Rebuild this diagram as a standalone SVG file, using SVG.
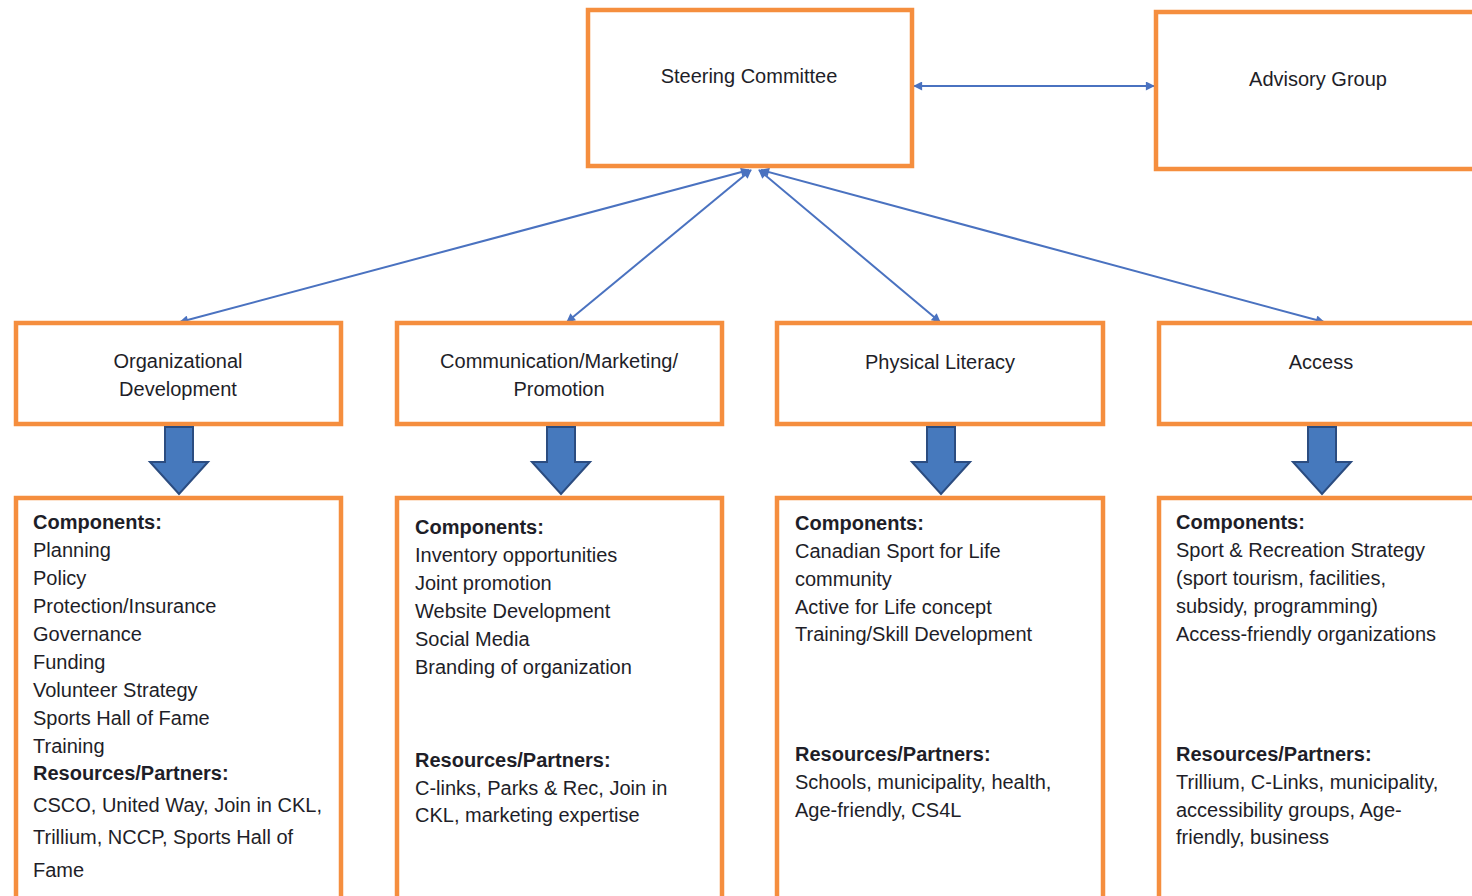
<svg xmlns="http://www.w3.org/2000/svg" width="1472" height="896" viewBox="0 0 1472 896">
<defs>
<style>
.box{fill:#fff;stroke:#F58E3E;stroke-width:4.5}
.t{font-family:"Liberation Sans",Arial,sans-serif;font-size:20px;fill:#1e1e28}
.c{text-anchor:middle}
.b{font-weight:bold}
.con{stroke:#4A72C0;stroke-width:2;fill:none;marker-start:url(#ah);marker-end:url(#ah)}
.blk{fill:#4679BD;stroke:#2B4C80;stroke-width:2}
</style>
<marker id="ah" viewBox="0 0 10 10" refX="9" refY="5" markerWidth="10" markerHeight="9" orient="auto-start-reverse" markerUnits="userSpaceOnUse">
<path d="M0,0 L10,5 L0,10 z" fill="#4A72C0"/>
</marker>
</defs>
<rect width="1472" height="896" fill="#fff"/>

<g id="connectors">
<line class="con" x1="914" y1="86" x2="1154" y2="86"/>
<line class="con" x1="749" y1="170" x2="180" y2="322"/>
<line class="con" x1="751" y1="170" x2="567" y2="322"/>
<line class="con" x1="759" y1="170" x2="940" y2="322"/>
<line class="con" x1="761" y1="170" x2="1324" y2="322"/>
</g>

<g id="steering">
<rect class="box" x="588" y="10" width="324" height="156"/>
<text class="t c" x="749" y="83">Steering Committee</text>
</g>
<g id="advisory">
<rect class="box" x="1156" y="12" width="330" height="157"/>
<text class="t c" x="1318" y="86">Advisory Group</text>
</g>

<g id="org-dev">
<rect class="box" x="16" y="323" width="325" height="101"/>
<text class="t c" x="178" y="368">Organizational</text>
<text class="t c" x="178" y="396">Development</text>
</g>
<g id="communication">
<rect class="box" x="397" y="323" width="325" height="101"/>
<text class="t c" x="559" y="368">Communication/Marketing/</text>
<text class="t c" x="559" y="396">Promotion</text>
</g>
<g id="physical-literacy">
<rect class="box" x="777" y="323" width="326" height="101"/>
<text class="t c" x="940" y="369">Physical Literacy</text>
</g>
<g id="access">
<rect class="box" x="1159" y="323" width="330" height="101"/>
<text class="t c" x="1321" y="369">Access</text>
</g>

<g id="block-arrows">
<path class="blk" d="M165,427 h28 v35 h15 l-29,32 l-29,-32 h15 z"/>
<path class="blk" d="M547,427 h28 v35 h15 l-29,32 l-29,-32 h15 z"/>
<path class="blk" d="M927,427 h28 v35 h15 l-29,32 l-29,-32 h15 z"/>
<path class="blk" d="M1308,427 h28 v35 h15 l-29,32 l-29,-32 h15 z"/>
</g>

<g id="org-dev-details">
<rect class="box" x="16" y="498" width="325" height="410"/>
<text class="t b" x="33" y="529">Components:</text>
<text class="t" x="33" y="557">Planning</text>
<text class="t" x="33" y="585">Policy</text>
<text class="t" x="33" y="613">Protection/Insurance</text>
<text class="t" x="33" y="641">Governance</text>
<text class="t" x="33" y="669">Funding</text>
<text class="t" x="33" y="697">Volunteer Strategy</text>
<text class="t" x="33" y="725">Sports Hall of Fame</text>
<text class="t" x="33" y="753">Training</text>
<text class="t b" x="33" y="780">Resources/Partners:</text>
<text class="t" x="33" y="812">CSCO, United Way, Join in CKL,</text>
<text class="t" x="33" y="844">Trillium, NCCP, Sports Hall of</text>
<text class="t" x="33" y="877">Fame</text>
</g>

<g id="communication-details">
<rect class="box" x="397" y="498" width="325" height="410"/>
<text class="t b" x="415" y="534">Components:</text>
<text class="t" x="415" y="562">Inventory opportunities</text>
<text class="t" x="415" y="590">Joint promotion</text>
<text class="t" x="415" y="618">Website Development</text>
<text class="t" x="415" y="646">Social Media</text>
<text class="t" x="415" y="674">Branding of organization</text>
<text class="t b" x="415" y="767">Resources/Partners:</text>
<text class="t" x="415" y="795">C-links, Parks &amp; Rec, Join in</text>
<text class="t" x="415" y="822">CKL, marketing expertise</text>
</g>

<g id="physical-literacy-details">
<rect class="box" x="777" y="498" width="326" height="410"/>
<text class="t b" x="795" y="530">Components:</text>
<text class="t" x="795" y="558">Canadian Sport for Life</text>
<text class="t" x="795" y="586">community</text>
<text class="t" x="795" y="614">Active for Life concept</text>
<text class="t" x="795" y="641">Training/Skill Development</text>
<text class="t b" x="795" y="761">Resources/Partners:</text>
<text class="t" x="795" y="789">Schools, municipality, health,</text>
<text class="t" x="795" y="817">Age-friendly, CS4L</text>
</g>

<g id="access-details">
<rect class="box" x="1159" y="498" width="330" height="410"/>
<text class="t b" x="1176" y="529">Components:</text>
<text class="t" x="1176" y="557">Sport &amp; Recreation Strategy</text>
<text class="t" x="1176" y="585">(sport tourism, facilities,</text>
<text class="t" x="1176" y="613">subsidy, programming)</text>
<text class="t" x="1176" y="641">Access-friendly organizations</text>
<text class="t b" x="1176" y="761">Resources/Partners:</text>
<text class="t" x="1176" y="789">Trillium, C-Links, municipality,</text>
<text class="t" x="1176" y="817">accessibility groups, Age-</text>
<text class="t" x="1176" y="844">friendly, business</text>
</g>
</svg>
